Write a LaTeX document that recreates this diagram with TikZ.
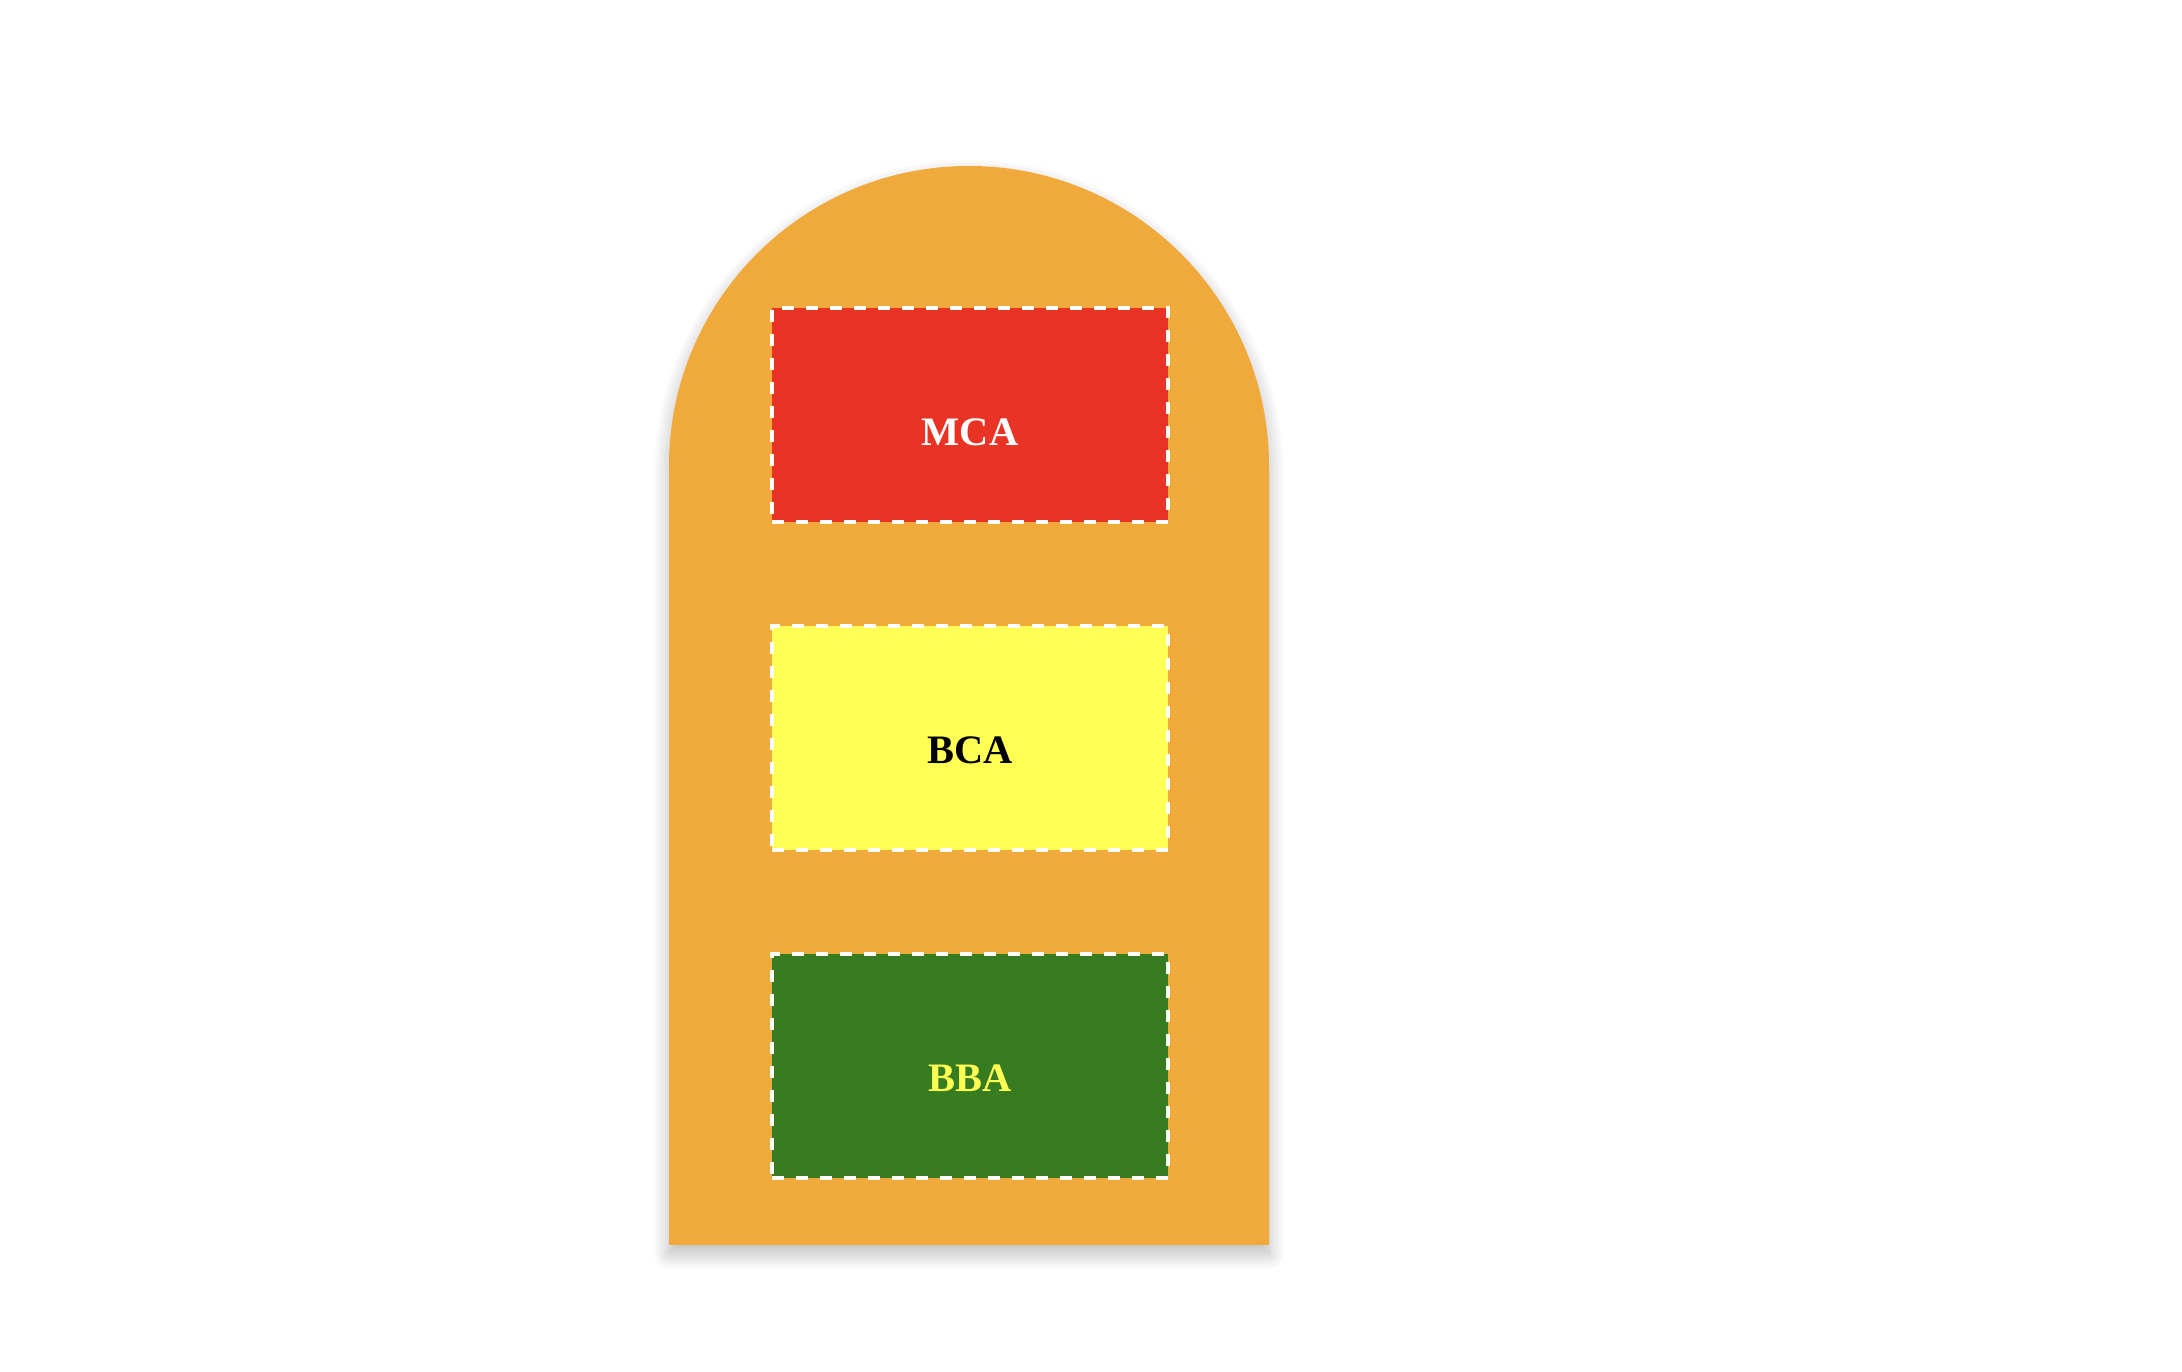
\documentclass[tikz,border=0pt]{standalone}
\usepackage{fontspec}
\setmainfont{Liberation Serif}
\usetikzlibrary{calc}
\usetikzlibrary{shadows.blur}
\usepackage{xcolor}
\definecolor{archorange}{HTML}{F0A93B}
\definecolor{mcared}{HTML}{E93324}
\definecolor{bcayellow}{HTML}{FFFF54}
\definecolor{bbagreen}{HTML}{387C21}

\begin{document}
\begin{tikzpicture}[thick,
    every node/.style={font=\fontsize{11.5pt}{14pt}\selectfont\bfseries},
    course/.style={rectangle, draw=white, line width=0.04cm,
      dash pattern=on 0.12cm off 0.12cm, minimum width=3.96cm,
      text height=0.52cm, text depth=0cm}]
      \useasboundingbox (0,0) rectangle (21.82,13.72);
      % arch
      \coordinate (center) at (9.69, 9.06);
      \coordinate (radius) at (3, 0);
      \coordinate (base) at (9.69, 1.27);

      \fill [archorange, blur shadow={shadow xshift=0cm, shadow yshift=-0.09cm,
        shadow blur radius=0.16cm, shadow blur steps=14, shadow opacity=28}]
      ($(base) - (radius)$) -- ($(center) - (radius)$) arc (180:0:3)
      -- ($(base) + (radius)$) -- cycle;

      % courses
      \node [course, fill=mcared, text=white, minimum height=2.14cm,
      text height=0.62cm, name=mca] at (9.70, 9.57) {MCA};
      \node [course, fill=bcayellow, text=black, minimum height=2.24cm, name=bca]
      at (9.70, 6.34) {BCA};
      \node [course, fill=bbagreen, text=bcayellow, minimum height=2.24cm, name=bba]
      at (9.70, 3.06) {BBA};
    \end{tikzpicture}
\end{document}
